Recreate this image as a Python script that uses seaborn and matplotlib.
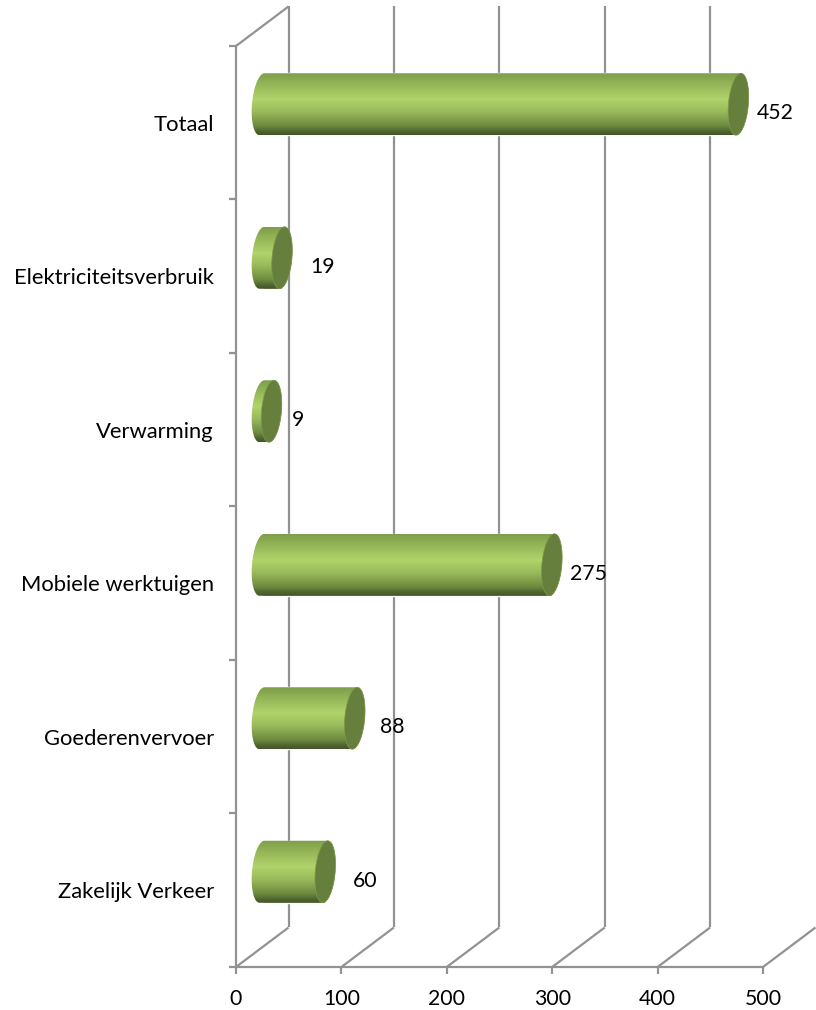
import numpy as np
import pandas as pd
import matplotlib
matplotlib.use("Agg")
import matplotlib.pyplot as plt
from matplotlib.colors import LinearSegmentedColormap
from matplotlib.patches import PathPatch, Polygon
from matplotlib.path import Path
from matplotlib.ticker import FixedLocator
import seaborn as sns

categories = ["Totaal", "Elektriciteitsverbruik", "Verwarming",
              "Mobiele werktuigen", "Goederenvervoer", "Zakelijk Verkeer"]
values = [452, 19, 9, 275, 88, 60]
x_ticks = [0, 100, 200, 300, 400, 500]
label_offsets_px = [37, 41, 27, 37, 37, 40]

sns.set_theme(style="white")
plt.rcParams["font.family"] = ["Lato", "DejaVu Sans"]

W, H = 816, 1010
fig = plt.figure(figsize=(W / 100, H / 100), dpi=100)
ax = fig.add_axes([236 / W, (H - 967) / H, 527 / W, 921 / H])

df = pd.DataFrame({"cat": categories, "val": values})
BAR_H = 62 / 153.5
sns.barplot(data=df, x="val", y="cat", orient="h", color="#8fb052",
            width=BAR_H, ax=ax, zorder=3)
ax.set_xlim(0, 500)
ax.set_ylim(5.5, -0.5)
ax.set_xlabel("")
ax.set_ylabel("")

PX_X = 500 / 527        # data units per pixel
PX_Y = 1 / 153.5
DEPTH_X, DEPTH_Y = 52.5 * PX_X, 39.5 * PX_Y   # back wall offset
START = 26 * PX_X       # bars begin in the middle of the floor depth
SHIFT = 18.5 * PX_Y
GRAY = "#929292"
LW = 1.6

# Axes
for s in ("top", "right"):
    ax.spines[s].set_visible(False)
for s in ("left", "bottom"):
    ax.spines[s].set_color(GRAY)
    ax.spines[s].set_linewidth(LW)
ax.set_xticks(x_ticks)
ax.set_yticks(range(len(categories)))
ax.set_yticklabels(categories)
ax.yaxis.set_minor_locator(FixedLocator(np.arange(-0.5, 6, 1)))
ax.tick_params(axis="y", which="major", length=0, pad=16, labelsize=15.8, labelcolor="black")
ax.tick_params(axis="y", which="minor", left=True, length=5, width=LW, color=GRAY)
ax.tick_params(axis="x", which="major", bottom=True, length=5, width=LW, color=GRAY,
               pad=10.5, labelsize=15.3, labelcolor="black")

# Back wall and floor
y_bottom, y_top = 5.5, -0.5
line_kw = dict(color=GRAY, lw=LW, clip_on=False, zorder=1, solid_capstyle="butt")
for i, t in enumerate(x_ticks):
    ax.plot([t, t + DEPTH_X], [y_bottom, y_bottom - DEPTH_Y], **line_kw)
    if i < len(x_ticks) - 1:
        ax.plot([t + DEPTH_X] * 2, [y_bottom - DEPTH_Y, y_top - DEPTH_Y], **line_kw)
ax.plot([0, DEPTH_X], [y_top, y_top - DEPTH_Y], **line_kw)

# Cylinder shading
cmap = LinearSegmentedColormap.from_list("cyl", [
    (0.00, "#7f9d4c"), (0.08, "#88a84f"), (0.42, "#b1d36a"), (0.62, "#9abb5b"),
    (0.85, "#6e8a40"), (0.95, "#4d6130"), (1.00, "#43552a")])
grad = np.linspace(0, 1, 256).reshape(-1, 1)
A, B, SHEAR = 10 * PX_X, 31 * PX_Y, 2.5 * PX_X


def arc(cx, cy, t0, t1):
    t = np.linspace(t0, t1, 60)
    return np.column_stack([cx + A * np.cos(t) - SHEAR * np.sin(t), cy + B * np.sin(t)])


for i, (patch, v) in enumerate(zip(ax.patches, values)):
    patch.set_x(START)
    cy = patch.get_y() + patch.get_height() / 2 - SHIFT
    patch.set_y(cy - patch.get_height() / 2)
    x_end = START + v
    outline = np.vstack([arc(START, cy, np.pi / 2, 3 * np.pi / 2),
                         arc(x_end, cy, -np.pi / 2, np.pi / 2)])
    body = PathPatch(Path(np.vstack([outline, outline[0]]), closed=True),
                     transform=ax.transData, fc="none", ec="none")
    ax.add_patch(body)
    img = ax.imshow(grad, cmap=cmap, aspect="auto", zorder=3.5, interpolation="bilinear",
                    extent=[START - 2 * A, x_end + 2 * A, cy + B, cy - B])
    img.set_clip_path(body)
    cap = Polygon(arc(x_end, cy, 0, 2 * np.pi), closed=True, fc="#667f3d",
                  ec="#7d9a4c", lw=0.5, zorder=4, clip_on=False)
    ax.add_patch(cap)
    ax.annotate(str(v), (x_end, cy), xytext=(label_offsets_px[i] * 0.72, -6.5),
                textcoords="offset points", ha="center", va="center",
                fontsize=15.3, color="black", zorder=5, annotation_clip=False)

ax.set_xlim(0, 500)
ax.set_ylim(5.5, -0.5)
fig.patch.set_facecolor("white")
fig.savefig("out.png", dpi=100)
